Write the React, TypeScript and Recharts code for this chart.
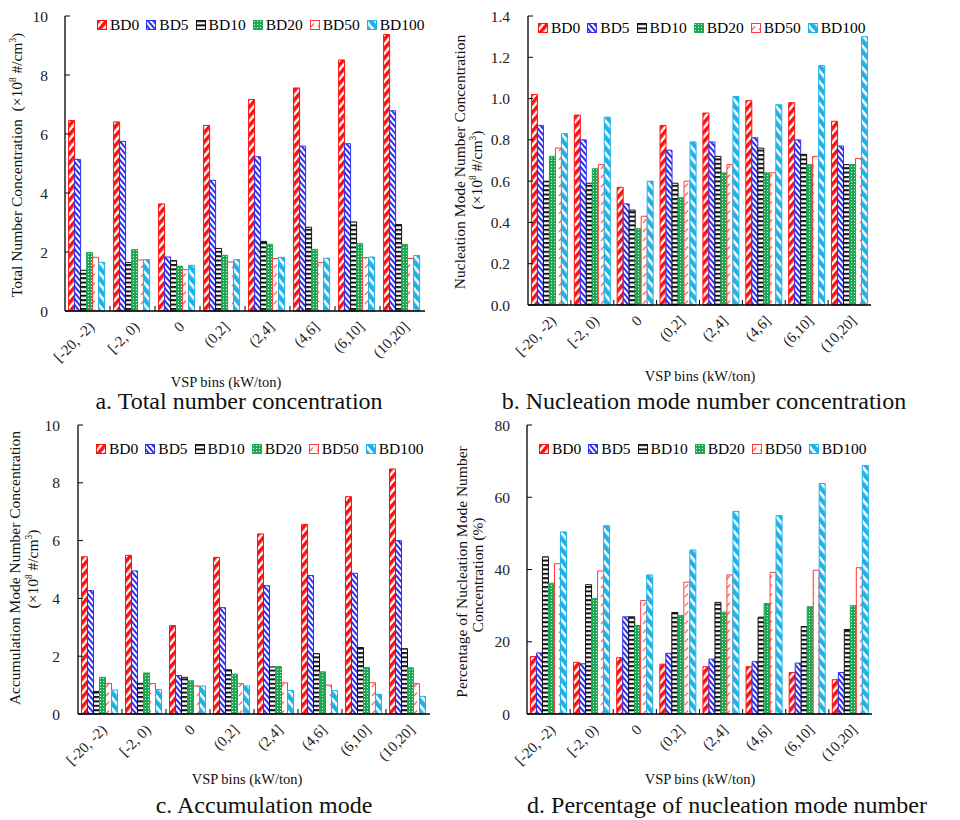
import React from "react";
import { BarChart, Bar, XAxis, YAxis } from "recharts";

const VSP_BINS = ["[-20, -2)", "[-2, 0)", "0", "(0,2]", "(2,4]", "(4,6]", "(6,10]", "(10,20]"];
const FUELS = ["BD0", "BD5", "BD10", "BD20", "BD50", "BD100"];

// one row per fuel, one value per VSP bin
const TOTAL_NUMBER = [
  [6.46, 6.41, 3.63, 6.29, 7.17, 7.56, 8.51, 9.37],
  [5.14, 5.75, 1.83, 4.43, 5.23, 5.59, 5.67, 6.79],
  [1.38, 1.64, 1.71, 2.12, 2.36, 2.84, 3.02, 2.93],
  [1.98, 2.08, 1.52, 1.89, 2.26, 2.09, 2.29, 2.26],
  [1.82, 1.73, 1.4, 1.66, 1.78, 1.64, 1.81, 1.78],
  [1.65, 1.74, 1.55, 1.74, 1.82, 1.79, 1.83, 1.88],
];
const NUCLEATION = [
  [1.02, 0.92, 0.57, 0.87, 0.93, 0.99, 0.98, 0.89],
  [0.87, 0.8, 0.49, 0.75, 0.79, 0.81, 0.8, 0.77],
  [0.6, 0.59, 0.46, 0.59, 0.72, 0.76, 0.73, 0.68],
  [0.72, 0.66, 0.37, 0.52, 0.64, 0.64, 0.68, 0.68],
  [0.76, 0.68, 0.43, 0.6, 0.68, 0.64, 0.72, 0.71],
  [0.83, 0.91, 0.6, 0.79, 1.01, 0.97, 1.16, 1.3],
];
const ACCUMULATION = [
  [5.44, 5.49, 3.06, 5.42, 6.23, 6.56, 7.52, 8.48],
  [4.27, 4.95, 1.33, 3.68, 4.44, 4.79, 4.87, 6.0],
  [0.78, 1.06, 1.27, 1.53, 1.63, 2.09, 2.3, 2.26],
  [1.27, 1.42, 1.15, 1.38, 1.64, 1.46, 1.61, 1.6],
  [1.06, 1.05, 0.97, 1.05, 1.08, 1.0, 1.08, 1.05],
  [0.83, 0.85, 0.97, 0.97, 0.81, 0.81, 0.68, 0.61],
];
const NUCLEATION_PCT = [
  [15.9, 14.3, 15.6, 13.8, 13.1, 13.1, 11.5, 9.5],
  [16.9, 13.9, 26.9, 16.8, 15.2, 14.5, 14.1, 11.5],
  [43.5, 35.8, 26.9, 28.1, 30.9, 26.8, 24.2, 23.4],
  [36.2, 32.0, 24.5, 27.3, 28.2, 30.6, 29.7, 30.0],
  [41.6, 39.6, 31.4, 36.5, 38.5, 39.2, 39.8, 40.5],
  [50.4, 52.1, 38.5, 45.4, 56.1, 54.9, 63.8, 68.8],
];

const TICKS_10 = [0, 2, 4, 6, 8, 10];
const TICKS_14 = [0, 0.2, 0.4, 0.6, 0.8, 1.0, 1.2, 1.4];
const TICKS_80 = [0, 20, 40, 60, 80];

const FONT = '"Liberation Serif", "Times New Roman", serif';
const STROKES = ["#ff1010", "#3030f0", "#111111", "#1fa855", "#ff3838", "#1eb2e8"];

function Patterns() {
  return (
    <svg width={0} height={0} style={{ position: "absolute" }}>
      <defs>
        <pattern id="pat-bd0" width="6" height="6" patternUnits="userSpaceOnUse" patternTransform="rotate(40)">
          <rect width="6" height="6" fill="#fff" />
          <rect width="3.6" height="6" fill="#ff1010" />
        </pattern>
        <pattern id="pat-bd5" width="4" height="4" patternUnits="userSpaceOnUse" patternTransform="rotate(-40)">
          <rect width="4" height="4" fill="#fff" />
          <rect width="2" height="4" fill="#3030f0" />
        </pattern>
        <pattern id="pat-bd10" width="4" height="4.4" patternUnits="userSpaceOnUse">
          <rect width="4" height="4.4" fill="#fff" />
          <rect width="4" height="2" fill="#111" />
        </pattern>
        <pattern id="pat-bd20" width="3" height="3" patternUnits="userSpaceOnUse">
          <rect width="3" height="3" fill="#1fa855" />
          <rect x="1" y="1" width="1" height="1" fill="#d8f5e2" />
        </pattern>
        <pattern id="pat-bd50" width="7" height="9" patternUnits="userSpaceOnUse">
          <rect width="7" height="9" fill="#fff" />
          <line x1="1" y1="7" x2="4" y2="3.5" stroke="#ff6a6a" strokeWidth="1.3" />
        </pattern>
        <pattern id="pat-bd100" width="7" height="7" patternUnits="userSpaceOnUse" patternTransform="rotate(-40)">
          <rect width="7" height="7" fill="#fff" />
          <rect width="4.4" height="7" fill="#1eb2e8" />
        </pattern>
      </defs>
    </svg>
  );
}

function Legend({ left, top }: { left: number; top: number }) {
  return (
    <div style={{ position: "absolute", left, top, display: "flex", alignItems: "center", fontFamily: FONT, fontSize: 15.5, lineHeight: "18px", whiteSpace: "nowrap" }}>
      {FUELS.map((f, i) => (
        <div key={f} style={{ display: "flex", alignItems: "center", marginRight: i < FUELS.length - 1 ? 7 : 0 }}>
          <svg width={11} height={11} style={{ marginRight: 2 }}>
            <rect x={0.5} y={0.5} width={9} height={9} fill={`url(#pat-${f.toLowerCase()})`} stroke={STROKES[i]} strokeWidth={1} />
          </svg>
          <span>{f}</span>
        </div>
      ))}
    </div>
  );
}

function VspTick(props: any) {
  const { x, y, payload, index, band } = props;
  const axisY = y - 8;
  const ax = x + 4;
  const ay = y + 5;
  return (
    <g>
      {index < VSP_BINS.length - 1 && (
        <line x1={x + band / 2} x2={x + band / 2} y1={axisY} y2={axisY - 5} stroke="#000" strokeWidth={1} />
      )}
      <text
        x={ax}
        y={ay}
        transform={`rotate(-45 ${ax} ${ay})`}
        textAnchor="end"
        dy="0.35em"
        fontFamily={FONT}
        fontSize={15}
        fill="#222"
      >
        {payload.value}
      </text>
    </g>
  );
}

type PanelProps = {
  left: number;
  top: number;
  width: number;
  height: number;
  margin: { top: number; right: number; left: number; bottom: number };
  yWidth: number;
  xHeight: number;
  values: number[][];
  ticks: number[];
  tickFmt?: (v: number) => string;
  tickMargin: number;
};

function Panel({ left, top, width, height, margin, yWidth, xHeight, values, ticks, tickFmt, tickMargin }: PanelProps) {
  const rows = VSP_BINS.map((cat, i) => {
    const row: Record<string, any> = { cat };
    FUELS.forEach((f, k) => (row[f] = values[k][i]));
    return row;
  });
  const plotW = width - margin.left - margin.right - yWidth;
  const band = plotW / VSP_BINS.length;
  const domain = [ticks[0], ticks[ticks.length - 1]];
  const axisStyle = { stroke: "#000", strokeWidth: 1.3 };
  return (
    <div style={{ position: "absolute", left, top }}>
      <BarChart width={width} height={height} data={rows} margin={margin} barGap={0} barCategoryGap="8%">
        <XAxis
          dataKey="cat"
          height={xHeight}
          tickLine={false}
          tickSize={0}
          tickMargin={8}
          interval={0}
          axisLine={axisStyle}
          tick={(p: any) => <VspTick {...p} band={band} />}
        />
        <XAxis xAxisId="top" orientation="top" dataKey="cat" height={0} tick={false} tickLine={false} axisLine={axisStyle} />
        <YAxis
          width={yWidth}
          domain={domain}
          ticks={ticks}
          interval={0}
          tickSize={-5}
          tickMargin={tickMargin}
          tickLine={{ stroke: "#000" }}
          axisLine={axisStyle}
          tickFormatter={tickFmt}
          tick={{ fontFamily: FONT, fontSize: 15.5, fill: "#222" }}
        />
        <YAxis yAxisId="right" orientation="right" width={0} domain={domain} tick={false} tickLine={false} axisLine={axisStyle} />
        {FUELS.map((f, k) => (
          <Bar
            key={f}
            dataKey={f}
            fill={`url(#pat-${f.toLowerCase()})`}
            stroke={STROKES[k]}
            strokeWidth={1}
            isAnimationActive={false}
          />
        ))}
      </BarChart>
    </div>
  );
}

const textBase: React.CSSProperties = { position: "absolute", fontFamily: FONT, color: "#111", whiteSpace: "nowrap" };

function VText({ cx, cy, size = 15.5, children }: { cx: number; cy: number; size?: number; children: React.ReactNode }) {
  return (
    <div style={{ ...textBase, left: cx, top: cy, fontSize: size, lineHeight: 1, transform: "translate(-50%, -50%) rotate(-90deg)" }}>
      {children}
    </div>
  );
}

function HText({ cx, cy, size, children }: { cx: number; cy: number; size: number; children: React.ReactNode }) {
  return (
    <div style={{ ...textBase, left: cx, top: cy, fontSize: size, lineHeight: 1, transform: "translate(-50%, -50%)" }}>{children}</div>
  );
}

const unit = (
  <>
    (×10<sup style={{ fontSize: "0.6em" }}>8</sup> #/cm<sup style={{ fontSize: "0.6em" }}>3</sup>)
  </>
);

export default function App() {
  return (
    <div style={{ position: "absolute", left: 0, top: 0, width: 960, height: 820, background: "#fff", overflow: "hidden" }}>
      <Patterns />
      <Panel
        left={0}
        top={0}
        width={440}
        height={370}
        margin={{ top: 16, right: 15, left: 0, bottom: 0 }}
        yWidth={65}
        xHeight={59}
        values={TOTAL_NUMBER}
        ticks={TICKS_10}
        tickMargin={22}
      />
      <Panel
        left={460}
        top={0}
        width={420}
        height={370}
        margin={{ top: 16, right: 9, left: 0, bottom: 0 }}
        yWidth={68}
        xHeight={65}
        values={NUCLEATION}
        ticks={TICKS_14}
        tickFmt={(v) => v.toFixed(1)}
        tickMargin={23}
      />
      <Panel
        left={0}
        top={410}
        width={440}
        height={370}
        margin={{ top: 15, right: 10, left: 0, bottom: 0 }}
        yWidth={78}
        xHeight={66}
        values={ACCUMULATION}
        ticks={TICKS_10}
        tickMargin={23}
      />
      <Panel
        left={460}
        top={410}
        width={420}
        height={370}
        margin={{ top: 15, right: 8, left: 0, bottom: 0 }}
        yWidth={67}
        xHeight={66}
        values={NUCLEATION_PCT}
        ticks={TICKS_80}
        tickMargin={22}
      />

      <Legend left={97} top={16} />
      <Legend left={538} top={19} />
      <Legend left={96} top={440} />
      <Legend left={539} top={440} />

      <VText cx={17} cy={165}>Total Number Concentration &nbsp;{unit}</VText>
      <VText cx={460} cy={162}>Nucleation Mode Number Concentration</VText>
      <VText cx={477} cy={170}>{unit}</VText>
      <VText cx={15} cy={568}>Accumulation Mode Number Concentration</VText>
      <VText cx={33} cy={569}>{unit}</VText>
      <VText cx={462} cy={572}>Percentage of Nucleation Mode Number</VText>
      <VText cx={478} cy={575}>Concentration (%)</VText>

      <HText cx={226} cy={382} size={14.5}>VSP bins (kW/ton)</HText>
      <HText cx={700} cy={376} size={14.5}>VSP bins (kW/ton)</HText>
      <HText cx={247} cy={779} size={14.5}>VSP bins (kW/ton)</HText>
      <HText cx={700} cy={779} size={14.5}>VSP bins (kW/ton)</HText>

      <HText cx={239} cy={401} size={24}>a. Total number concentration</HText>
      <HText cx={704} cy={401} size={24}>b. Nucleation mode number concentration</HText>
      <HText cx={264} cy={805} size={24}>c. Accumulation mode</HText>
      <HText cx={727} cy={805} size={24}>d. Percentage of nucleation mode number</HText>
    </div>
  );
}
